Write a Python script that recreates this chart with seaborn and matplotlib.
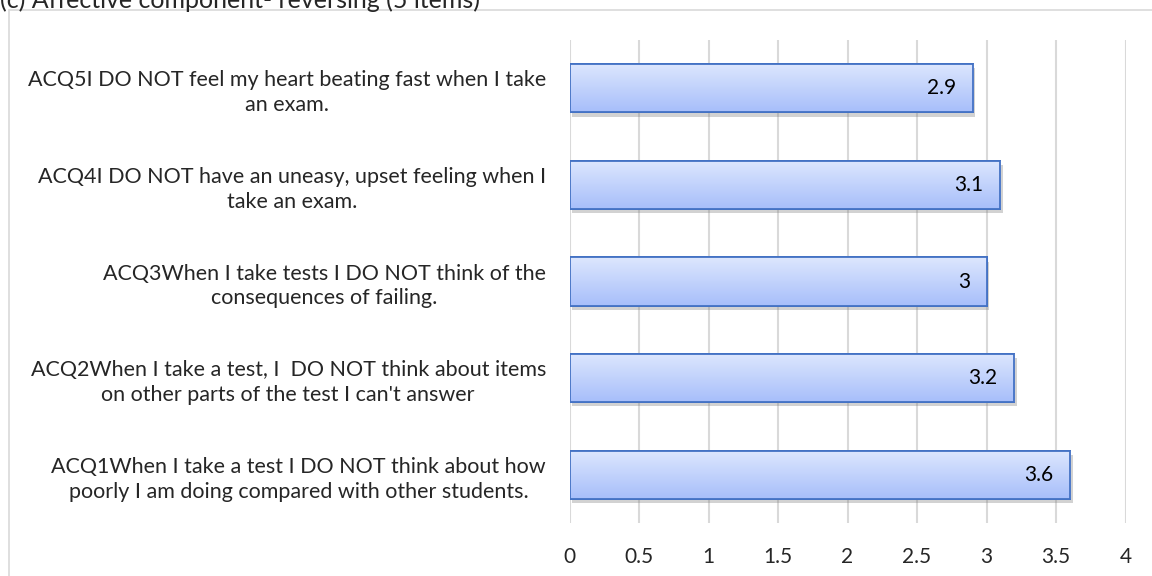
import numpy as np
import seaborn as sns
import matplotlib.pyplot as plt
from matplotlib.patches import Rectangle
from matplotlib.colors import LinearSegmentedColormap
import matplotlib.patheffects as pe

items = [
    "ACQ5I DO NOT feel my heart beating fast when I take\nan exam.",
    "ACQ4I DO NOT have an uneasy, upset feeling when I\ntake an exam.",
    "ACQ3When I take tests I DO NOT think of the\nconsequences of failing.",
    "ACQ2When I take a test, I  DO NOT think about items\non other parts of the test I can't answer",
    "ACQ1When I take a test I DO NOT think about how\npoorly I am doing compared with other students.",
]
means = [2.9, 3.1, 3.0, 3.2, 3.6]
value_labels = ["2.9", "3.1", "3", "3.2", "3.6"]
xticks = [0, 0.5, 1, 1.5, 2, 2.5, 3, 3.5, 4]
xtick_labels = ["0", "0.5", "1", "1.5", "2", "2.5", "3", "3.5", "4"]
title = "(c) Affective component- reversing (5 items)"

sns.set_style("white")
plt.rcParams['font.family'] = ['Lato', 'DejaVu Sans']

fig = plt.figure(figsize=(11.52, 5.76), dpi=100)
ax = fig.add_axes([569.5 / 1152, 1 - 523 / 576, 556 / 1152, 483 / 576])

sns.barplot(x=means, y=items, orient='h', width=0.5, color='#c4d4fc',
            edgecolor='#4472c4', linewidth=1.3, ax=ax, zorder=2)

# vertical gradient + soft shadow, Excel style
grad = np.linspace(0, 1, 256).reshape(-1, 1)
cmap = LinearSegmentedColormap.from_list('g', ['#dde7fe', '#a7befa'])
for bar in ax.patches[:len(means)]:
    x0, y0 = bar.get_xy()
    w, h = bar.get_width(), bar.get_height()
    bar.set_path_effects([pe.withSimplePatchShadow(offset=(2, -3), shadow_rgbFace='#7f7f7f', alpha=0.35),
                          pe.Normal()])
    im = ax.imshow(grad, cmap=cmap, aspect='auto', extent=[x0, x0 + w, y0 + h, y0],
                   origin='upper', zorder=2.5)
    im.set_clip_path(bar)
    ax.add_patch(Rectangle((x0, y0), w, h, fill=False, ec='#4472c4', lw=1.3, zorder=3))

for i, (v, lab) in enumerate(zip(means, value_labels)):
    ax.text(v - 0.12, i, lab, ha='right', va='center', fontsize=15, color='#000000', zorder=4)

ax.set_xlim(0, 4)
ax.set_ylim(4.5, -0.5)
ax.set_xticks(xticks)
ax.set_xticklabels(xtick_labels, fontsize=15)
ax.xaxis.grid(True, color='#d9d9d9', linewidth=1.5, zorder=0)
ax.set_axisbelow(True)
for s in ax.spines.values():
    s.set_visible(False)
ax.tick_params(axis='x', length=0, pad=17)
ax.tick_params(axis='y', length=0, pad=17)
for t in ax.get_yticklabels():
    t.set_fontsize(15.5)
    t.set_multialignment('center')
    t.set_linespacing(1.3)
    t.set_va('center_baseline')
ax.set_xlabel('')
ax.set_ylabel('')

fig.patches.append(Rectangle((9 / 1152, -0.1), 1.2, 1 - 10 / 576 + 0.1, transform=fig.transFigure,
                             fill=False, ec='#d9d9d9', lw=1.2))
fig.text(0.0, 1 - 8 / 576, title, fontsize=18, va='baseline', ha='left')

fig.savefig('out.png', dpi=100)
